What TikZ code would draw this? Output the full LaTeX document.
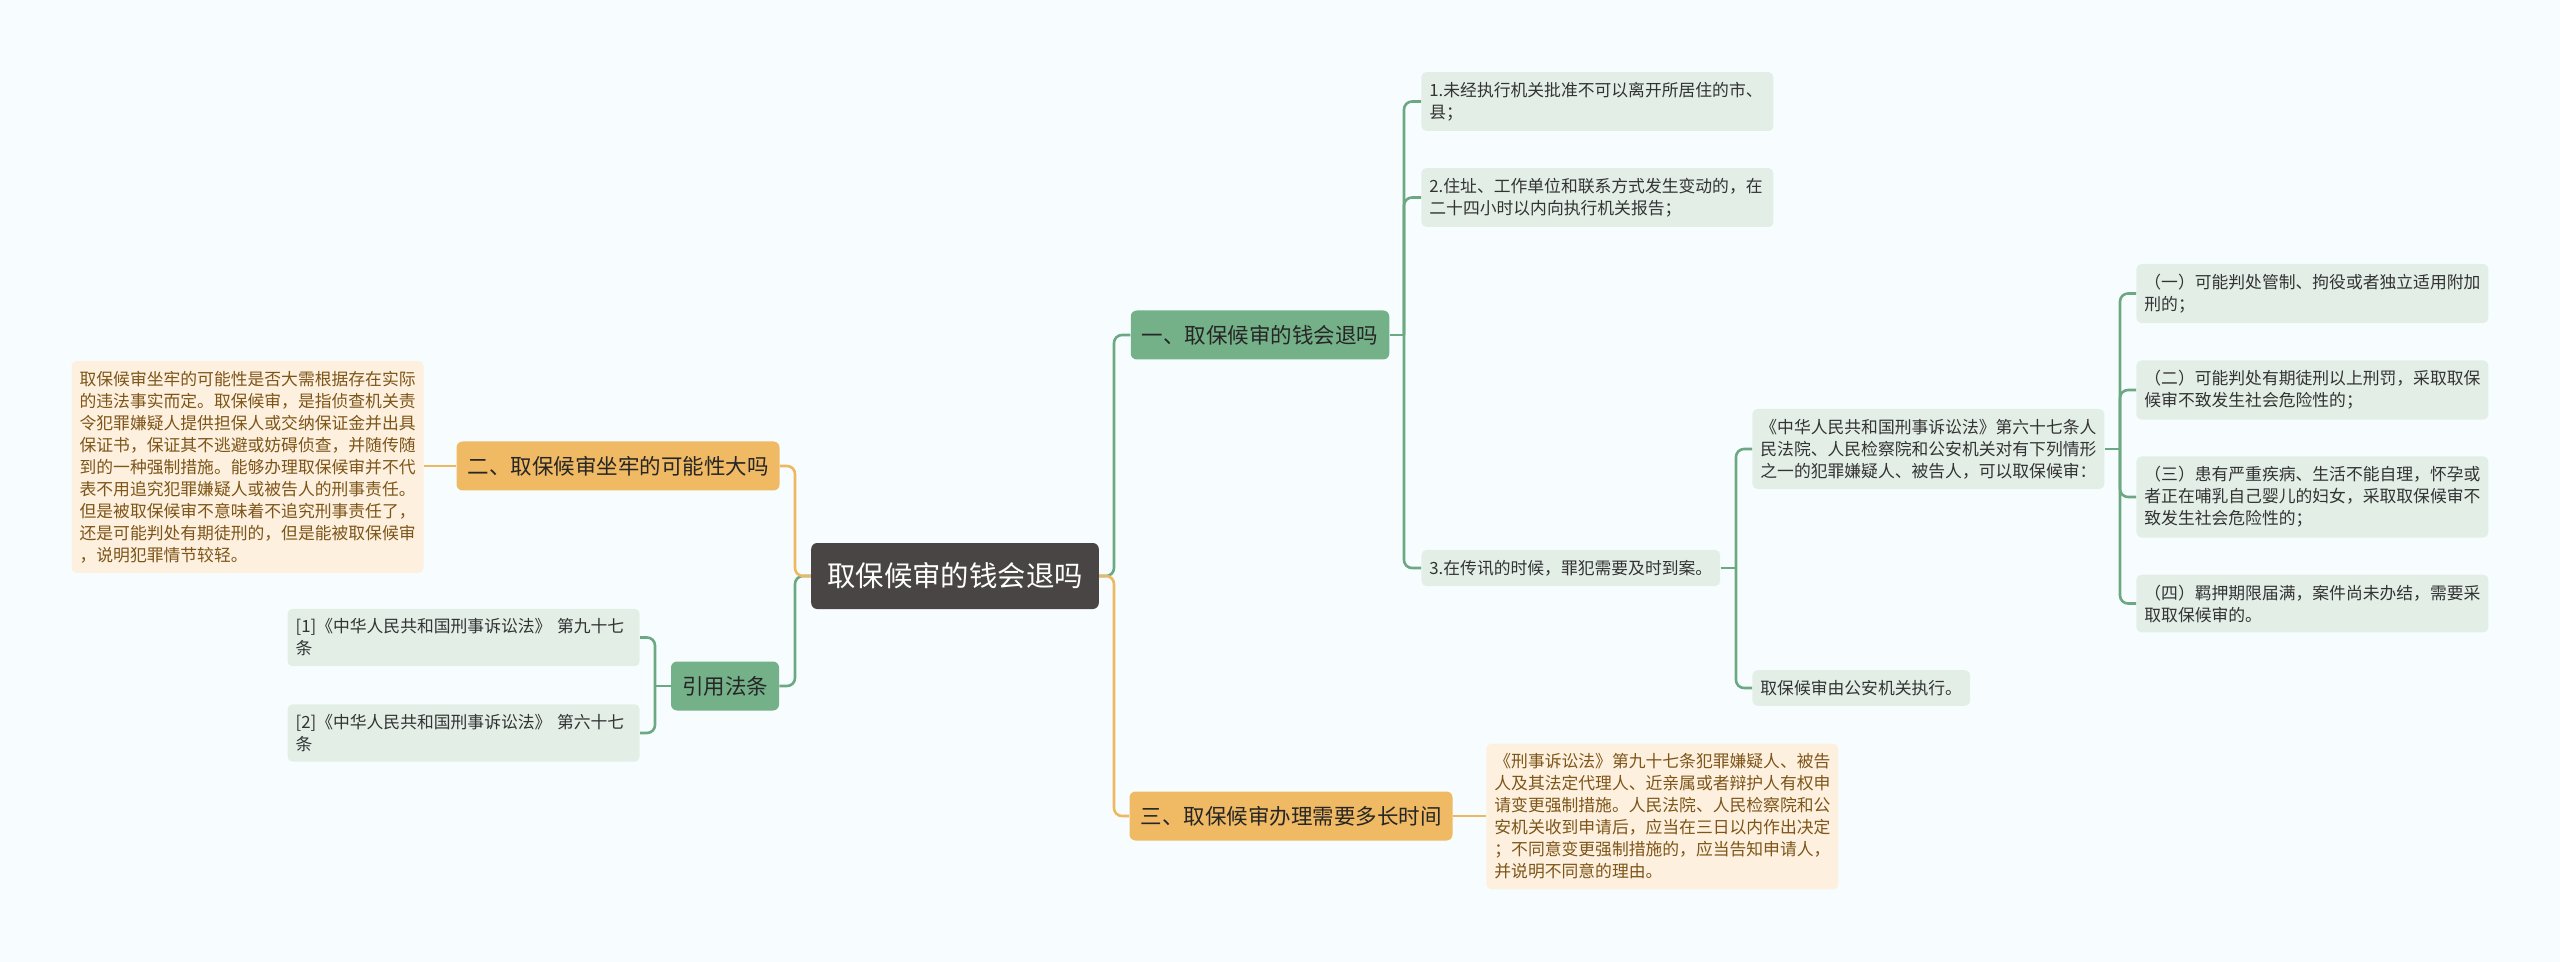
\documentclass[tikz,border=0pt]{standalone}
\usepackage{fontspec}
\setmainfont{Noto Sans CJK SC}
\usetikzlibrary{positioning,backgrounds}
\definecolor{rootc}{RGB}{74,69,69}
\definecolor{greenc}{RGB}{116,176,136}
\definecolor{orangec}{RGB}{240,185,99}
\definecolor{glinec}{RGB}{108,168,130}
\definecolor{olinec}{RGB}{238,184,98}
\definecolor{gleafc}{RGB}{227,238,231}
\definecolor{oleafc}{RGB}{253,240,222}
\definecolor{otextc}{RGB}{125,85,25}

\begin{document}
\begin{tikzpicture}[x=0.5pt,y=-0.5pt]
\colorlet{bgcol}{cyan!3!white}
\tikzstyle{root}=[fill=rootc,rounded corners=3pt,text=white,minimum height=33pt,inner xsep=8pt,font=\fontsize{14.2}{16}\selectfont];
\tikzstyle{gtopic}=[fill=greenc,rounded corners=3pt,text=black!85,minimum height=24.5pt,inner xsep=5.5pt,font=\fontsize{10.75}{13}\selectfont];
\tikzstyle{otopic}=[gtopic,fill=orangec];
\tikzstyle{gleaf}=[fill=gleafc,rounded corners=2.5pt,text=black!80,align=left,inner xsep=4pt,inner ysep=5pt,font=\fontsize{8.4}{11}\selectfont];
\tikzstyle{oleaf}=[gleaf,fill=oleafc,text=otextc];
\tikzstyle{wide}=[text width=168pt];
\tikzstyle{gline}=[glinec,line width=1.3pt,rounded corners=4pt];
\tikzstyle{oline}=[gline,olinec];

\fill[bgcol] (0,0) rectangle (2560,962);
\useasboundingbox (0,0) rectangle (2560,962);

\begin{scope}
        % centre and main topics
        \node[root] (root) at (955,576) {取保候审的钱会退吗};
        \node[gtopic] (one) at (1260,335) {一、取保候审的钱会退吗};
        \node[otopic] (two) at (618,466) {二、取保候审坐牢的可能性大吗};
        \node[gtopic] (cite) at (725,686) {引用法条};
        \node[otopic] (three) at (1291,816) {三、取保候审办理需要多长时间};

        % right side leaves
        \node[gleaf,wide,anchor=west] (n1) at (1421,101.5) {1.未经执行机关批准不可以离开所居住的市、\\县；};
        \node[gleaf,wide,anchor=west] (n2) at (1421,197.5) {2.住址、工作单位和联系方式发生变动的，在\\二十四小时以内向执行机关报告；};
        \node[gleaf,anchor=west] (n3) at (1421,568) {3.在传讯的时候，罪犯需要及时到案。};
        \node[gleaf,wide,anchor=west] (n4) at (1752,449) {《中华人民共和国刑事诉讼法》第六十七条人\\民法院、人民检察院和公安机关对有下列情形\\之一的犯罪嫌疑人、被告人，可以取保候审：};
        \node[gleaf,anchor=west] (n5) at (1752,688) {取保候审由公安机关执行。};
        \node[gleaf,wide,anchor=west] (m1) at (2136,293.5) {（一）可能判处管制、拘役或者独立适用附加\\刑的；};
        \node[gleaf,wide,anchor=west] (m2) at (2136,390) {（二）可能判处有期徒刑以上刑罚，采取取保\\候审不致发生社会危险性的；};
        \node[gleaf,wide,anchor=west] (m3) at (2136,497) {（三）患有严重疾病、生活不能自理，怀孕或\\者正在哺乳自己婴儿的妇女，采取取保候审不\\致发生社会危险性的；};
        \node[gleaf,wide,anchor=west] (m4) at (2136,603.5) {（四）羁押期限届满，案件尚未办结，需要采\\取取保候审的。};
        \node[oleaf,wide,anchor=west] (t1) at (1486,816.5) {《刑事诉讼法》第九十七条犯罪嫌疑人、被告\\人及其法定代理人、近亲属或者辩护人有权申\\请变更强制措施。人民法院、人民检察院和公\\安机关收到申请后，应当在三日以内作出决定\\；不同意变更强制措施的，应当告知申请人，\\并说明不同意的理由。};

        % left side leaves
        \node[oleaf,wide,anchor=east] (L1) at (424,467) {取保候审坐牢的可能性是否大需根据存在实际\\的违法事实而定。取保候审，是指侦查机关责\\令犯罪嫌疑人提供担保人或交纳保证金并出具\\保证书，保证其不逃避或妨碍侦查，并随传随\\到的一种强制措施。能够办理取保候审并不代\\表不用追究犯罪嫌疑人或被告人的刑事责任。\\但是被取保候审不意味着不追究刑事责任了，\\还是可能判处有期徒刑的，但是能被取保候审\\，说明犯罪情节较轻。};
        \node[gleaf,wide,anchor=east] (r1) at (640,637.5) {[1]《中华人民共和国刑事诉讼法》 第九十七\\条};
        \node[gleaf,wide,anchor=east] (r2) at (640,733) {[2]《中华人民共和国刑事诉讼法》 第六十七\\条};

        % spines
        \coordinate (sR) at (1114,0);
        \coordinate (sL) at (795,0);
        \coordinate (s1) at (1404,0);
        \coordinate (s3) at (1736,0);
        \coordinate (s4) at (2120,0);
        \coordinate (sC) at (655,0);

        \draw[gline] (root.east) -- (sR |- root.east) |- (one.west);
        \draw[oline] (root.east) -- (sR |- root.east) |- (three.west);
        \draw[gline] (root.west) -- (sL |- root.west) |- (cite.east);
        \draw[oline] (root.west) -- (sL |- root.west) |- (two.east);

        \draw[gline] (one.east) -- (s1 |- one.east);
        \foreach \n in {n1,n2,n3}
          \draw[gline] (s1 |- one.east) |- (\n.west);
        \draw[gline] (n3.east) -- (s3 |- n3.east);
        \foreach \n in {n4,n5}
          \draw[gline] (s3 |- n3.east) |- (\n.west);
        \draw[gline] (n4.east) -- (s4 |- n4.east);
        \foreach \n in {m1,m2,m3,m4}
          \draw[gline] (s4 |- n4.east) |- (\n.west);
        \draw[gline] (cite.west) -- (sC |- cite.west);
        \foreach \n in {r1,r2}
          \draw[gline] (sC |- cite.west) |- (\n.east);
        \draw[oline] (two.west) -- (L1.east |- two.west);
        \draw[oline] (three.east) -- (t1.west |- three.east);
\end{scope}

\end{tikzpicture}
\end{document}
